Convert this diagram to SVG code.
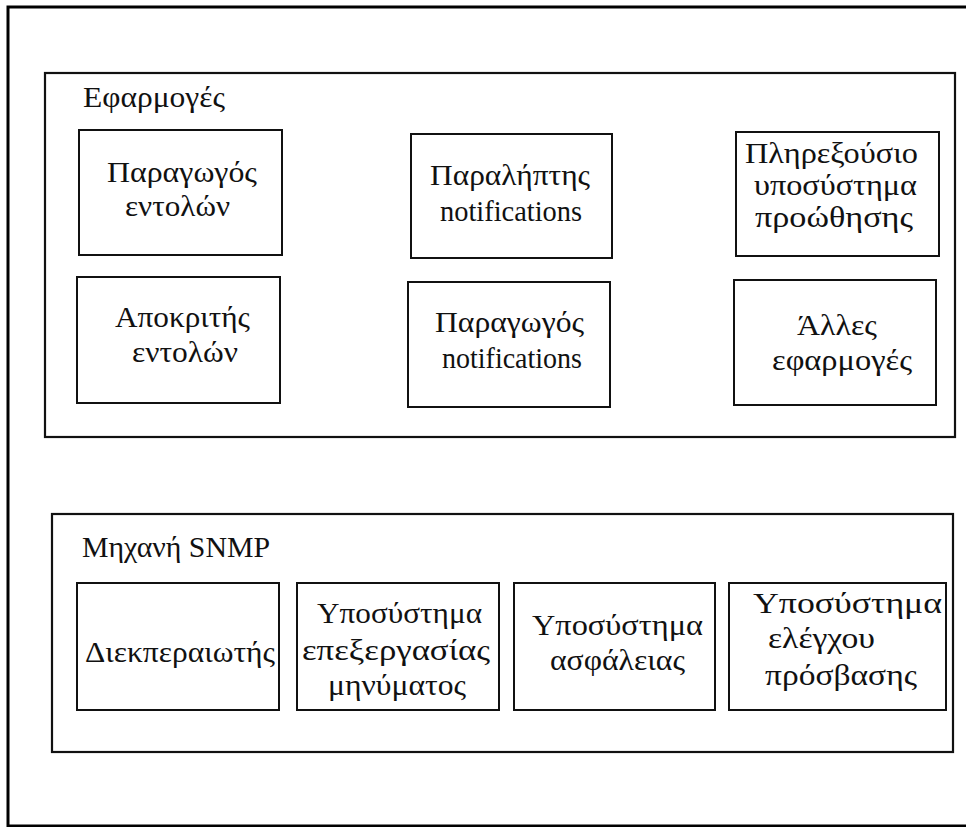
<svg xmlns="http://www.w3.org/2000/svg" width="966" height="827" viewBox="0 0 966 827">
  <style>
    .frame { fill: none; stroke: #000; stroke-width: 3; }
    .group { fill: none; stroke: #111; stroke-width: 2.2; }
    .box { fill: #fff; stroke: #111; stroke-width: 2; }
    text { font-family: "Liberation Serif", "DejaVu Serif", serif; font-size: 29px; fill: #111; }
  </style>
  <rect width="966" height="827" fill="#fff"/>
  <!-- outer frame, open on the right edge -->
  <path class="frame" d="M975,7 H8 V826 H975"/>

  <g id="applications">
    <rect class="group" x="45" y="73" width="910" height="364"/>
    <text x="83" y="107" textLength="142" lengthAdjust="spacingAndGlyphs">Εφαρμογές</text>
  </g>

  <g id="command-generator">
    <rect class="box" x="79" y="130" width="203" height="125"/>
    <text x="107" y="182" textLength="150" lengthAdjust="spacingAndGlyphs">Παραγωγός</text>
    <text x="125" y="216" textLength="105" lengthAdjust="spacingAndGlyphs">εντολών</text>
  </g>

  <g id="notification-receiver">
    <rect class="box" x="411" y="134" width="201" height="124"/>
    <text x="430" y="185" textLength="160" lengthAdjust="spacingAndGlyphs">Παραλήπτης</text>
    <text x="440" y="221" textLength="142" lengthAdjust="spacingAndGlyphs">notifications</text>
  </g>

  <g id="proxy-forwarder">
    <rect class="box" x="736" y="132" width="203" height="124"/>
    <text x="745" y="163" textLength="173" lengthAdjust="spacingAndGlyphs">Πληρεξούσιο</text>
    <text x="754" y="195" textLength="163" lengthAdjust="spacingAndGlyphs">υποσύστημα</text>
    <text x="755" y="227" textLength="158" lengthAdjust="spacingAndGlyphs">προώθησης</text>
  </g>

  <g id="command-responder">
    <rect class="box" x="77" y="277" width="203" height="126"/>
    <text x="115" y="327" textLength="135" lengthAdjust="spacingAndGlyphs">Αποκριτής</text>
    <text x="132" y="362" textLength="106" lengthAdjust="spacingAndGlyphs">εντολών</text>
  </g>

  <g id="notification-originator">
    <rect class="box" x="408" y="282" width="202" height="125"/>
    <text x="435" y="332" textLength="149" lengthAdjust="spacingAndGlyphs">Παραγωγός</text>
    <text x="442" y="368" textLength="140" lengthAdjust="spacingAndGlyphs">notifications</text>
  </g>

  <g id="other-applications">
    <rect class="box" x="734" y="280" width="202" height="125"/>
    <text x="797" y="335" textLength="80" lengthAdjust="spacingAndGlyphs">Άλλες</text>
    <text x="772" y="370" textLength="140" lengthAdjust="spacingAndGlyphs">εφαρμογές</text>
  </g>

  <g id="snmp-engine">
    <rect class="group" x="52" y="514" width="901" height="238"/>
    <text x="82" y="557" textLength="188" lengthAdjust="spacingAndGlyphs">Μηχανή SNMP</text>
  </g>

  <g id="dispatcher">
    <rect class="box" x="77" y="583" width="202" height="127"/>
    <text x="85" y="662" textLength="190" lengthAdjust="spacingAndGlyphs">Διεκπεραιωτής</text>
  </g>

  <g id="message-processing">
    <rect class="box" x="297" y="583" width="202" height="127"/>
    <text x="317" y="623" textLength="165" lengthAdjust="spacingAndGlyphs">Υποσύστημα</text>
    <text x="302" y="660" textLength="188" lengthAdjust="spacingAndGlyphs">επεξεργασίας</text>
    <text x="328" y="695" textLength="138" lengthAdjust="spacingAndGlyphs">μηνύματος</text>
  </g>

  <g id="security">
    <rect class="box" x="514" y="583" width="201" height="127"/>
    <text x="532" y="635" textLength="171" lengthAdjust="spacingAndGlyphs">Υποσύστημα</text>
    <text x="550" y="670" textLength="135" lengthAdjust="spacingAndGlyphs">ασφάλειας</text>
  </g>

  <g id="access-control">
    <rect class="box" x="729" y="583" width="217" height="127"/>
    <text x="753" y="613" textLength="189" lengthAdjust="spacingAndGlyphs">Υποσύστημα</text>
    <text x="768" y="648" textLength="107" lengthAdjust="spacingAndGlyphs">ελέγχου</text>
    <text x="765" y="685" textLength="152" lengthAdjust="spacingAndGlyphs">πρόσβασης</text>
  </g>

  <!-- no connectors are drawn between the nodes -->
  <g id="connectors"/>
</svg>
